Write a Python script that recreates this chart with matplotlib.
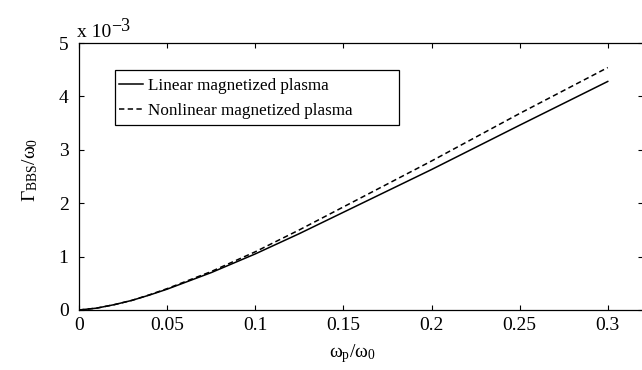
import numpy as np
import matplotlib
matplotlib.use('Agg')
import matplotlib.pyplot as plt
from matplotlib.patches import Rectangle

# values (y in units of 1e-3)
ratio = [0, 0.01, 0.02, 0.03, 0.04, 0.05, 0.075, 0.1, 0.125, 0.15, 0.2, 0.25, 0.3]
gamma_linear = [0, 0.035, 0.10, 0.18, 0.28, 0.39, 0.70, 1.05, 1.43, 1.83, 2.63, 3.46, 4.28]
gamma_nonlinear = [0, 0.035, 0.10, 0.18, 0.285, 0.40, 0.72, 1.09, 1.50, 1.93, 2.79, 3.68, 4.54]

xticks = [0, 0.05, 0.1, 0.15, 0.2, 0.25, 0.3]
xticklabels = ['0', '0.05', '0.1', '0.15', '0.2', '0.25', '0.3']
yticks = [0, 1, 2, 3, 4, 5]

plt.rcParams['font.family'] = 'Liberation Serif'
plt.rcParams['mathtext.fontset'] = 'custom'
plt.rcParams['mathtext.rm'] = 'Liberation Serif'
plt.rcParams['mathtext.it'] = 'Liberation Serif'
plt.rcParams['mathtext.bf'] = 'Liberation Serif:bold'

W, H = 642, 370
fig = plt.figure(figsize=(W / 100, H / 100), dpi=100)
ax_l, ax_b, ax_w, ax_h = 79, 310, 564, 267  # pixels
ax = fig.add_axes([ax_l / W, 1 - ax_b / H, ax_w / W, ax_h / H])

def ax_x(px):
    return (px - ax_l) / ax_w

def ax_y(py):
    return (ax_b - py) / ax_h

ax.plot(ratio, gamma_linear, color='black', linewidth=1.1, label='Linear magnetized plasma')
ax.plot(ratio, gamma_nonlinear, color='black', linewidth=1.1, linestyle=(0, (3.5, 2.2)),
        label='Nonlinear magnetized plasma')

ax.set_xlim(0, 0.32)
ax.set_ylim(0, 5)
ax.set_xticks(xticks)
ax.set_xticklabels(xticklabels)
ax.set_yticks(yticks)
ax.tick_params(direction='in', top=True, right=True, length=3.6, width=0.8,
               labelsize=14, colors='black')
ax.tick_params(axis='y', pad=7.5)
ax.tick_params(axis='x', pad=5)
for s in ax.spines.values():
    s.set_linewidth(0.9)

ax.set_xlabel(r'$\omega_{\rm p}/\omega_0$', fontsize=14, va='top')
ax.xaxis.set_label_coords(ax_x(352), ax_y(342))
ax.set_ylabel(r'$\Gamma_{\rm BBS}/\omega_0$', fontsize=14)
ax.yaxis.set_label_coords(ax_x(40), ax_y(170))

# "x 10^-3" multiplier, exponent at nearly full size as in the reference
t1 = ax.text(ax_x(77), ax_y(37), 'x 10', transform=ax.transAxes, fontsize=14,
             ha='left', va='baseline')
ax.annotate('\u22123', xy=(1, 0.38), xycoords=t1, fontsize=13, ha='left', va='bottom')

leg = ax.legend(loc='upper left', bbox_to_anchor=(ax_x(119), ax_y(78)), borderaxespad=0,
                fontsize=12.3, frameon=False, handlelength=1.4, handletextpad=0.3,
                labelspacing=0.55, borderpad=0)
ax.add_patch(Rectangle((ax_x(115), ax_y(125)), ax_x(399) - ax_x(115), ax_y(70) - ax_y(125),
                       transform=ax.transAxes, fill=False, edgecolor='black',
                       linewidth=0.9, zorder=5))

fig.savefig('out.png', dpi=100)
